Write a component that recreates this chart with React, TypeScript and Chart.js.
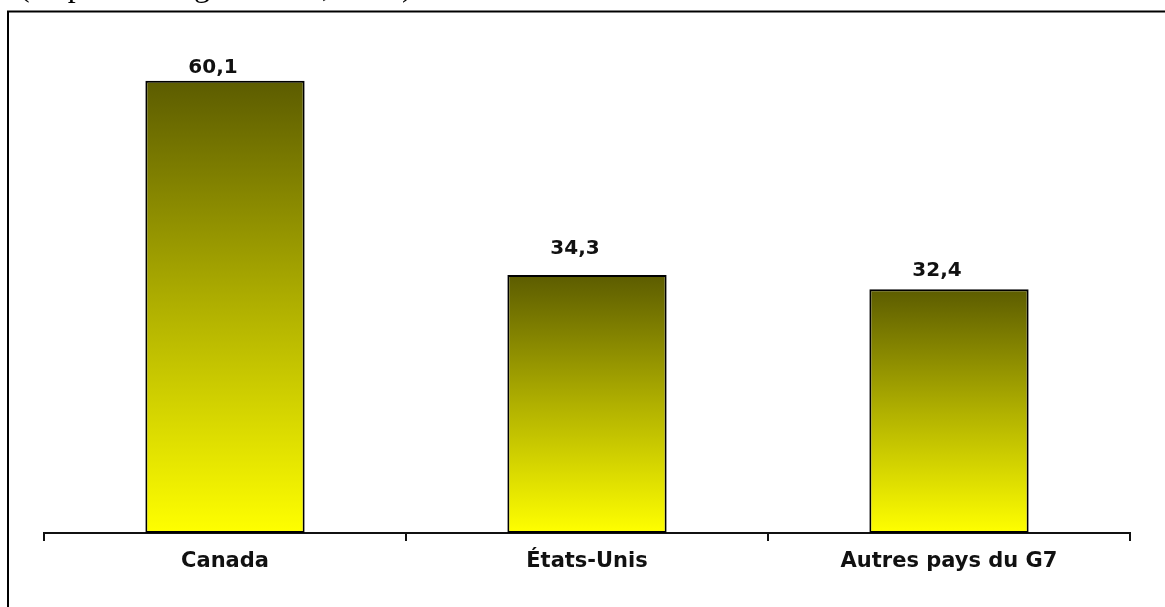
import React, { useEffect, useRef } from "react";
import { Chart, registerables } from "chart.js";

Chart.register(...registerables);

const categories = ["Canada", "États-Unis", "Autres pays du G7"];
const values = [60.1, 34.3, 32.4];
const valueLabels = ["60,1", "34,3", "32,4"];
const labelGaps = [8, 21, 13];
const titleText = "(en pourcentage du PIB, 2005)";

export default function App() {
  const ref = useRef<HTMLCanvasElement | null>(null);

  useEffect(() => {
    const canvas = ref.current;
    if (!canvas) return;

    const framePlugin = {
      id: "frame",
      beforeDraw(chart: any) {
        const c = chart.ctx;
        c.save();
        c.fillStyle = "#ffffff";
        c.fillRect(0, 0, chart.width, chart.height);
        c.strokeStyle = "#000000";
        c.lineWidth = 2;
        c.strokeRect(8, 11.5, chart.width + 50, chart.height + 50);
        c.fillStyle = "#000000";
        c.font = "32px 'Liberation Serif', 'Times New Roman', serif";
        c.textBaseline = "alphabetic";
        c.textAlign = "left";
        c.fillText(titleText, 19, -4);
        c.restore();
      },
    };

    const labelPlugin = {
      id: "valueLabels",
      afterDatasetsDraw(chart: any) {
        const c = chart.ctx;
        const meta = chart.getDatasetMeta(0);
        c.save();
        c.fillStyle = "#111111";
        c.font = "bold 20px 'DejaVu Sans', Verdana, sans-serif";
        c.textAlign = "center";
        c.textBaseline = "alphabetic";
        meta.data.forEach((bar: any, i: number) => {
          c.fillText(valueLabels[i], bar.x - 12, bar.y - labelGaps[i]);
        });
        c.restore();
      },
    };

    const chart = new Chart(canvas, {
      type: "bar",
      data: {
        labels: categories,
        datasets: [
          {
            data: values,
            backgroundColor: (ctx: any) => {
              const ch = ctx.chart;
              const area = ch.chartArea;
              if (!area) return "#ffff00";
              const y = ch.scales.y;
              const top = y.getPixelForValue(ctx.raw ?? 0);
              const bottom = y.getPixelForValue(0);
              if (!isFinite(top) || !isFinite(bottom) || top === bottom) return "#ffff00";
              const g = ch.ctx.createLinearGradient(0, top, 0, bottom);
              g.addColorStop(0, "#5c5c00");
              g.addColorStop(0.5, "#b0b000");
              g.addColorStop(1, "#ffff00");
              return g;
            },
            borderColor: "#000000",
            borderWidth: 2,
            borderSkipped: false,
            barPercentage: 0.44,
            categoryPercentage: 1,
          },
        ],
      },
      options: {
        responsive: false,
        animation: false,
        devicePixelRatio: 1,
        layout: { padding: { left: 44, right: 35, top: 44, bottom: 0 } },
        plugins: {
          legend: { display: false },
          tooltip: { enabled: false },
          title: { display: false },
        },
        scales: {
          x: {
            offset: true,
            afterFit: (s: any) => {
              s.height = 74;
            },
            border: { display: true, color: "#111111", width: 2 },
            grid: {
              display: true,
              offset: true,
              drawOnChartArea: false,
              drawTicks: true,
              tickLength: 8,
              color: "#111111",
              lineWidth: 2,
            },
            ticks: {
              color: "#111111",
              padding: 8,
              font: { family: "'DejaVu Sans', Verdana, sans-serif", size: 21, weight: "bold" },
              maxRotation: 0,
            },
          },
          y: {
            display: false,
            min: 0,
            max: 65,
          },
        },
      },
      plugins: [framePlugin, labelPlugin],
    } as any);

    return () => chart.destroy();
  }, []);

  return (
    <div style={{ position: "fixed", left: 0, top: 0, width: 1165, height: 607 }}>
      <canvas ref={ref} width={1165} height={607} style={{ display: "block" }} />
    </div>
  );
}
